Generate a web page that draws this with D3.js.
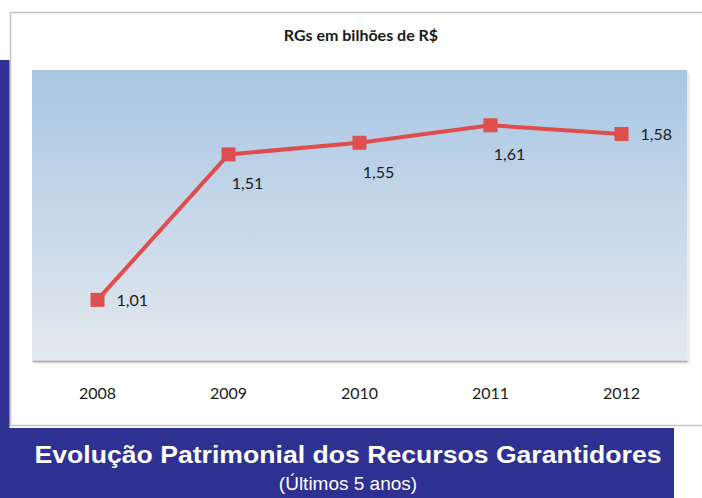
<!DOCTYPE html>
<html>
<head>
<meta charset="utf-8">
<script src="https://cdn.jsdelivr.net/npm/d3@7"></script>
<style>
  body { margin: 0; background: #fff; }
  svg { display: block; }
</style>
</head>
<body>
<div id="chart"></div>
<script>
// data
var years = ["2008", "2009", "2010", "2011", "2012"];
var values = [1.01, 1.51, 1.55, 1.61, 1.58];
var valueLabels = ["1,01", "1,51", "1,55", "1,61", "1,58"];
var labelSide = ["right", "below", "below", "below", "right"];

var W = 702, H = 498;
var plot = {left: 32, right: 687, top: 70, bottom: 361};
var navy = "#2e3092";

var svg = d3.select("#chart").append("svg")
    .attr("width", W)
    .attr("height", H);

var defs = svg.append("defs");
var grad = defs.append("linearGradient")
    .attr("id", "plotGrad")
    .attr("x1", 0).attr("y1", 0).attr("x2", 0).attr("y2", 1);
grad.append("stop").attr("offset", "0%").attr("stop-color", "#a8c6e4");
grad.append("stop").attr("offset", "100%").attr("stop-color", "#e4e9ee");

// outer chart frame
svg.append("rect")
    .attr("x", 10.5).attr("y", 12.5)
    .attr("width", W).attr("height", 413)
    .attr("fill", "#fff")
    .attr("stroke", "#c4c4c4")
    .attr("stroke-width", 1.5);

// navy band on the left and at the bottom
svg.append("rect")
    .attr("x", 0).attr("y", 60)
    .attr("width", 9.5).attr("height", H - 60)
    .attr("fill", navy);
svg.append("rect")
    .attr("x", 0).attr("y", 428)
    .attr("width", 674).attr("height", H - 428)
    .attr("fill", navy);

// chart title
svg.append("text")
    .attr("x", 361).attr("y", 41)
    .attr("text-anchor", "middle")
    .attr("font-family", "Lato, 'Open Sans', sans-serif")
    .attr("font-weight", "bold")
    .attr("font-size", 16)
    .attr("fill", "#1a1a1a")
    .text("RGs em bilhões de R$");

// plot area (soft shadow + gradient)
svg.append("rect")
    .attr("x", plot.left + 3).attr("y", plot.top + 3)
    .attr("width", plot.right - plot.left).attr("height", plot.bottom - plot.top)
    .attr("fill", "#ececec");
svg.append("rect")
    .attr("x", plot.left).attr("y", plot.top)
    .attr("width", plot.right - plot.left).attr("height", plot.bottom - plot.top)
    .attr("fill", "url(#plotGrad)");

var x = d3.scaleBand()
    .domain(years)
    .range([plot.left, plot.right]);

var y = d3.scaleLinear()
    .domain([0.8, 1.8])
    .range([plot.bottom, plot.top]);

// x axis
var xAxis = svg.append("g")
    .attr("transform", "translate(0," + plot.bottom + ")")
    .call(d3.axisBottom(x).tickSize(0).tickPadding(27));
xAxis.select(".domain")
    .attr("stroke", "#a6a6a6")
    .attr("stroke-width", 1.5);
xAxis.selectAll("text")
    .attr("font-family", "Lato, 'Open Sans', sans-serif")
    .attr("font-size", 16)
    .attr("fill", "#1a1a1a");

var pts = years.map(function(d, i) {
    return {year: d, value: values[i], label: valueLabels[i], side: labelSide[i]};
});

var cx = function(d) { return x(d.year) + x.bandwidth() / 2; };

var line = d3.line()
    .x(cx)
    .y(function(d) { return y(d.value); });

svg.append("path")
    .datum(pts)
    .attr("d", line)
    .attr("fill", "none")
    .attr("stroke", "#e04c4c")
    .attr("stroke-width", 4);

var ms = 14;
svg.selectAll(".marker")
    .data(pts)
    .enter().append("rect")
    .attr("class", "marker")
    .attr("x", function(d) { return cx(d) - ms / 2; })
    .attr("y", function(d) { return y(d.value) - ms / 2; })
    .attr("width", ms).attr("height", ms)
    .attr("fill", "#de4f4f");

svg.selectAll(".vlabel")
    .data(pts)
    .enter().append("text")
    .attr("class", "vlabel")
    .attr("x", function(d) { return cx(d) + 19; })
    .attr("y", function(d) { return d.side == "right" ? y(d.value) + 6 : y(d.value) + 35; })
    .attr("text-anchor", function(d) { return d.side == "right" ? "start" : "middle"; })
    .attr("font-family", "Lato, 'Open Sans', sans-serif")
    .attr("font-size", 16)
    .attr("fill", "#1a1a1a")
    .text(function(d) { return d.label; });

// caption in the navy band
svg.append("text")
    .attr("x", 348).attr("y", 463)
    .attr("text-anchor", "middle")
    .attr("font-family", "'Liberation Sans', Arial, sans-serif")
    .attr("font-weight", "bold")
    .attr("font-size", 24)
    .attr("textLength", 627)
    .attr("lengthAdjust", "spacingAndGlyphs")
    .attr("fill", "#fff")
    .text("Evolução Patrimonial dos Recursos Garantidores");

svg.append("text")
    .attr("x", 348).attr("y", 490)
    .attr("text-anchor", "middle")
    .attr("font-family", "'Liberation Sans', Arial, sans-serif")
    .attr("font-size", 19)
    .attr("fill", "#fff")
    .text("(Últimos 5 anos)");
</script>
</body>
</html>
